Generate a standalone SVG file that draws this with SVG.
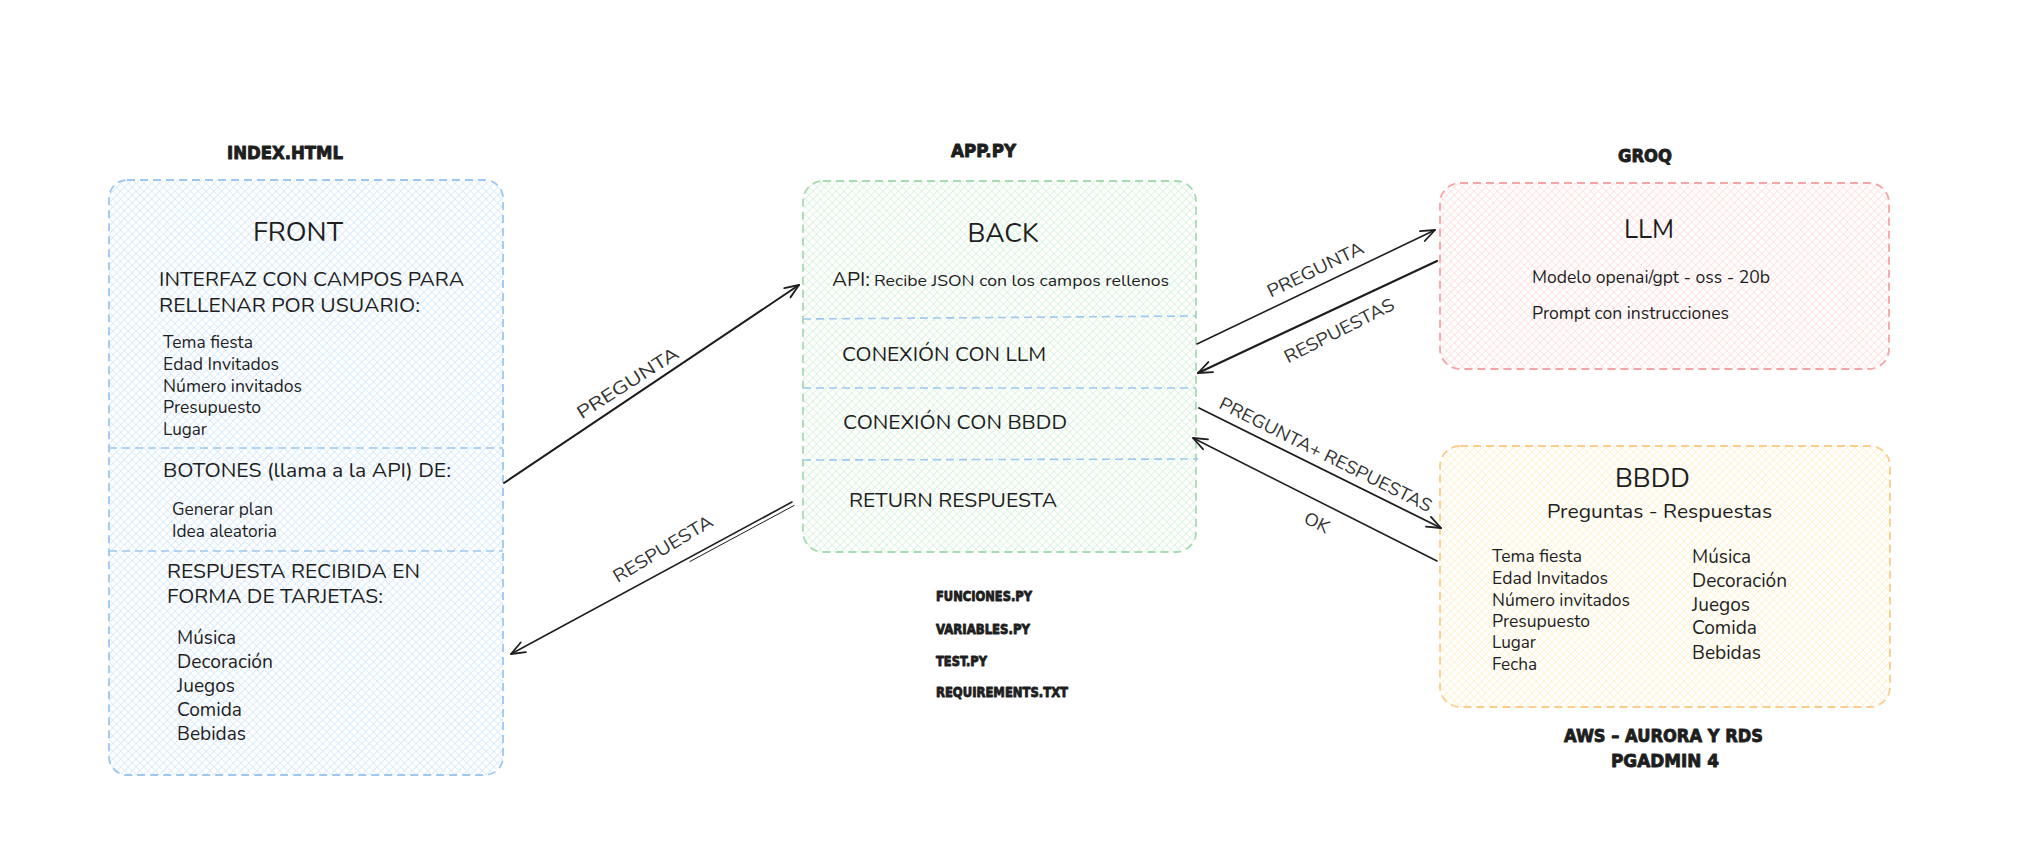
<svg xmlns="http://www.w3.org/2000/svg" width="2039" height="862" viewBox="0 0 2039 862">
<defs>
<pattern id="hB" width="5.5" height="5.5" patternUnits="userSpaceOnUse" patternTransform="rotate(45)"><rect width="5.5" height="5.5" fill="#ffffff"/><path d="M0,0H5.5M0,0V5.5" stroke="#d2e8fc" stroke-width="1.6"/></pattern>
<pattern id="hG" width="5.5" height="5.5" patternUnits="userSpaceOnUse" patternTransform="rotate(45)"><rect width="5.5" height="5.5" fill="#ffffff"/><path d="M0,0H5.5M0,0V5.5" stroke="#d4f2d9" stroke-width="1.6"/></pattern>
<pattern id="hR" width="5.5" height="5.5" patternUnits="userSpaceOnUse" patternTransform="rotate(45)"><rect width="5.5" height="5.5" fill="#ffffff"/><path d="M0,0H5.5M0,0V5.5" stroke="#ffdcdc" stroke-width="1.6"/></pattern>
<pattern id="hY" width="5.5" height="5.5" patternUnits="userSpaceOnUse" patternTransform="rotate(45)"><rect width="5.5" height="5.5" fill="#ffffff"/><path d="M0,0H5.5M0,0V5.5" stroke="#fff0c8" stroke-width="1.6"/></pattern>
<marker id="ah" viewBox="0 0 18 14" refX="16" refY="7" markerWidth="18" markerHeight="14" markerUnits="userSpaceOnUse" orient="auto"><path d="M2,1.5 L16,7 L2,12.5" fill="none" stroke="#1e1e1e" stroke-width="1.8" stroke-linecap="round" stroke-linejoin="round"/></marker>
</defs>
<style>
.t{font-family:"Nunito","Noto Sans","Open Sans",sans-serif;fill:#1e1e1e}
.h{font-family:"DejaVu Sans","Liberation Sans",sans-serif;font-weight:700;fill:#1e1e1e;stroke:#1e1e1e;stroke-width:0.9;stroke-linejoin:round}
.box{stroke-width:1.8;stroke-dasharray:8 5}
.div{fill:none;stroke:#9fc7ef;stroke-width:1.6;stroke-dasharray:8 5}
.ln{fill:none;stroke:#1e1e1e;stroke-linecap:round}
.lb{font-family:"Nunito","Noto Sans","Open Sans",sans-serif;fill:#333333;font-size:18px}
</style>
<rect width="2039" height="862" fill="#ffffff"/>

<g id="front">
<rect class="box" x="109" y="180" width="394" height="595" rx="18" fill="url(#hB)" stroke="#9fc7ef"/>
<path class="div" d="M109,448 L503,448"/>
<path class="div" d="M109,551 L503,551"/>
<text class="h" x="285" y="159" font-size="17" text-anchor="middle" textLength="116" lengthAdjust="spacingAndGlyphs">INDEX.HTML</text>
<text class="t" x="298" y="241" font-size="26" text-anchor="middle" textLength="90" lengthAdjust="spacingAndGlyphs">FRONT</text>
<text class="t" x="159" y="286" font-size="20" textLength="305" lengthAdjust="spacingAndGlyphs">INTERFAZ CON CAMPOS PARA</text>
<text class="t" x="159" y="312" font-size="20" textLength="261" lengthAdjust="spacingAndGlyphs">RELLENAR POR USUARIO:</text>
<text class="t" x="163" y="348" font-size="17" textLength="90" lengthAdjust="spacingAndGlyphs">Tema fiesta</text>
<text class="t" x="163" y="370" font-size="17" textLength="116" lengthAdjust="spacingAndGlyphs">Edad Invitados</text>
<text class="t" x="163" y="392" font-size="17" textLength="139" lengthAdjust="spacingAndGlyphs">Número invitados</text>
<text class="t" x="163" y="413" font-size="17" textLength="98" lengthAdjust="spacingAndGlyphs">Presupuesto</text>
<text class="t" x="163" y="435" font-size="17" textLength="44" lengthAdjust="spacingAndGlyphs">Lugar</text>
<text class="t" x="163" y="477" font-size="20" textLength="288" lengthAdjust="spacingAndGlyphs">BOTONES (llama a la API) DE:</text>
<text class="t" x="172" y="515" font-size="17" textLength="101" lengthAdjust="spacingAndGlyphs">Generar plan</text>
<text class="t" x="172" y="537" font-size="17" textLength="105" lengthAdjust="spacingAndGlyphs">Idea aleatoria</text>
<text class="t" x="167" y="578" font-size="20" textLength="253" lengthAdjust="spacingAndGlyphs">RESPUESTA RECIBIDA EN</text>
<text class="t" x="167" y="603" font-size="20" textLength="216" lengthAdjust="spacingAndGlyphs">FORMA DE TARJETAS:</text>
<text class="t" x="177" y="644" font-size="19.5" textLength="59" lengthAdjust="spacingAndGlyphs">Música</text>
<text class="t" x="177" y="668" font-size="19.5" textLength="96" lengthAdjust="spacingAndGlyphs">Decoración</text>
<text class="t" x="177" y="692" font-size="19.5" textLength="58" lengthAdjust="spacingAndGlyphs">Juegos</text>
<text class="t" x="177" y="716" font-size="19.5" textLength="65" lengthAdjust="spacingAndGlyphs">Comida</text>
<text class="t" x="177" y="740" font-size="19.5" textLength="69" lengthAdjust="spacingAndGlyphs">Bebidas</text>
</g>

<g id="back">
<rect class="box" x="803" y="181" width="393" height="371" rx="20" fill="url(#hG)" stroke="#a6dcb0"/>
<path class="div" d="M803,319 L1196,316"/>
<path class="div" d="M803,388 L1196,388"/>
<path class="div" d="M803,460 L1198,459"/>
<text class="h" x="983.5" y="157" font-size="17" text-anchor="middle" textLength="65" lengthAdjust="spacingAndGlyphs">APP.PY</text>
<text class="t" x="1003" y="242" font-size="26" text-anchor="middle" textLength="71" lengthAdjust="spacingAndGlyphs">BACK</text>
<text class="t" x="832" y="286" font-size="19" textLength="38" lengthAdjust="spacingAndGlyphs">API:</text>
<text class="t" x="874" y="286" font-size="16.5" textLength="295" lengthAdjust="spacingAndGlyphs">Recibe JSON con los campos rellenos</text>
<text class="t" x="842" y="361" font-size="20" textLength="204" lengthAdjust="spacingAndGlyphs">CONEXIÓN CON LLM</text>
<text class="t" x="843" y="429" font-size="20" textLength="224" lengthAdjust="spacingAndGlyphs">CONEXIÓN CON BBDD</text>
<text class="t" x="849" y="507" font-size="20" textLength="208" lengthAdjust="spacingAndGlyphs">RETURN RESPUESTA</text>
<text class="h" x="936" y="601" font-size="13.5" textLength="96" lengthAdjust="spacingAndGlyphs">FUNCIONES.PY</text>
<text class="h" x="936" y="634" font-size="13.5" textLength="94" lengthAdjust="spacingAndGlyphs">VARIABLES.PY</text>
<text class="h" x="936" y="666" font-size="13.5" textLength="51" lengthAdjust="spacingAndGlyphs">TEST.PY</text>
<text class="h" x="936" y="697" font-size="13.5" textLength="132" lengthAdjust="spacingAndGlyphs">REQUIREMENTS.TXT</text>
</g>

<g id="llm">
<rect class="box" x="1440" y="183" width="449" height="186" rx="20" fill="url(#hR)" stroke="#f5a5a5"/>
<text class="h" x="1645" y="162" font-size="17" text-anchor="middle" textLength="54" lengthAdjust="spacingAndGlyphs">GROQ</text>
<text class="t" x="1649" y="238" font-size="26" text-anchor="middle" textLength="50" lengthAdjust="spacingAndGlyphs">LLM</text>
<text class="t" x="1532" y="283" font-size="17.5" textLength="238" lengthAdjust="spacingAndGlyphs">Modelo openai/gpt - oss - 20b</text>
<text class="t" x="1532" y="319" font-size="17.5" textLength="197" lengthAdjust="spacingAndGlyphs">Prompt con instrucciones</text>
</g>

<g id="bbdd">
<rect class="box" x="1440" y="446" width="450" height="261" rx="20" fill="url(#hY)" stroke="#fbcd8c"/>
<text class="t" x="1652.5" y="487" font-size="26" text-anchor="middle" textLength="75" lengthAdjust="spacingAndGlyphs">BBDD</text>
<text class="t" x="1659.5" y="518" font-size="20" text-anchor="middle" textLength="225" lengthAdjust="spacingAndGlyphs">Preguntas - Respuestas</text>
<text class="t" x="1492" y="562" font-size="17" textLength="90" lengthAdjust="spacingAndGlyphs">Tema fiesta</text>
<text class="t" x="1492" y="584" font-size="17" textLength="116" lengthAdjust="spacingAndGlyphs">Edad Invitados</text>
<text class="t" x="1492" y="606" font-size="17" textLength="138" lengthAdjust="spacingAndGlyphs">Número invitados</text>
<text class="t" x="1492" y="627" font-size="17" textLength="98" lengthAdjust="spacingAndGlyphs">Presupuesto</text>
<text class="t" x="1492" y="648" font-size="17" textLength="44" lengthAdjust="spacingAndGlyphs">Lugar</text>
<text class="t" x="1492" y="670" font-size="17" textLength="45" lengthAdjust="spacingAndGlyphs">Fecha</text>
<text class="t" x="1692" y="563" font-size="19.5" textLength="59" lengthAdjust="spacingAndGlyphs">Música</text>
<text class="t" x="1692" y="587" font-size="19.5" textLength="95" lengthAdjust="spacingAndGlyphs">Decoración</text>
<text class="t" x="1692" y="611" font-size="19.5" textLength="58" lengthAdjust="spacingAndGlyphs">Juegos</text>
<text class="t" x="1692" y="634" font-size="19.5" textLength="65" lengthAdjust="spacingAndGlyphs">Comida</text>
<text class="t" x="1692" y="659" font-size="19.5" textLength="69" lengthAdjust="spacingAndGlyphs">Bebidas</text>
<text class="h" x="1663.5" y="742" font-size="18" text-anchor="middle" textLength="199" lengthAdjust="spacingAndGlyphs">AWS – AURORA Y RDS</text>
<text class="h" x="1665" y="767" font-size="18" text-anchor="middle" textLength="108" lengthAdjust="spacingAndGlyphs">PGADMIN 4</text>
</g>

<g id="connectors">
<path class="ln" d="M504,483 L799,285" stroke-width="2" marker-end="url(#ah)"/>
<path class="ln" d="M792,502 L511,654" stroke-width="1.6" marker-end="url(#ah)"/>
<path class="ln" d="M794,505.5 L690,561.5" stroke-width="1"/>
<path class="ln" d="M1197,344 L1435,230" stroke-width="1.6" marker-end="url(#ah)"/>
<path class="ln" d="M1437,261 L1198,373" stroke-width="2.2" marker-end="url(#ah)"/>
<path class="ln" d="M1199,408 L1441,528" stroke-width="1.8" marker-end="url(#ah)"/>
<path class="ln" d="M1437,561 L1193,438" stroke-width="1.6" marker-end="url(#ah)"/>
<text class="lb" transform="translate(631,388) rotate(-32.5)" text-anchor="middle" textLength="117" lengthAdjust="spacingAndGlyphs">PREGUNTA</text>
<text class="lb" transform="translate(666,554) rotate(-31)" text-anchor="middle" textLength="113" lengthAdjust="spacingAndGlyphs">RESPUESTA</text>
<text class="lb" transform="translate(1318,275) rotate(-25.8)" text-anchor="middle" textLength="105" lengthAdjust="spacingAndGlyphs">PREGUNTA</text>
<text class="lb" transform="translate(1342,336) rotate(-27)" text-anchor="middle" textLength="121" lengthAdjust="spacingAndGlyphs">RESPUESTAS</text>
<text class="lb" transform="translate(1323,460) rotate(26.5)" text-anchor="middle" textLength="235" lengthAdjust="spacingAndGlyphs">PREGUNTA+ RESPUESTAS</text>
<text class="lb" transform="translate(1314,528) rotate(26.5)" text-anchor="middle" textLength="26" lengthAdjust="spacingAndGlyphs">OK</text>
</g>
</svg>
